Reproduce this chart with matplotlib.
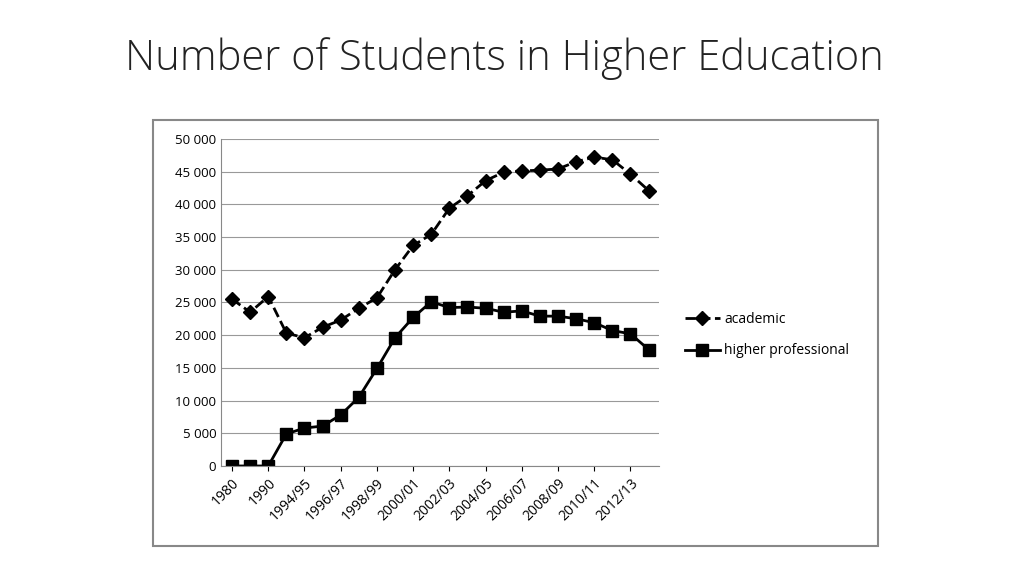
import matplotlib
matplotlib.use("Agg")
import matplotlib.pyplot as plt
from matplotlib.patches import Rectangle

years = ["1980", "1985", "1990", "1993/94", "1994/95", "1995/96", "1996/97", "1997/98",
         "1998/99", "1999/00", "2000/01", "2001/02", "2002/03", "2003/04", "2004/05",
         "2005/06", "2006/07", "2007/08", "2008/09", "2009/10", "2010/11", "2011/12",
         "2012/13", "2013/14"]
academic = [25500, 23500, 25900, 20300, 19600, 21200, 22300, 24100, 25700, 30000, 33700,
            35400, 39400, 41300, 43600, 44900, 45100, 45200, 45400, 46500, 47200, 46800,
            44600, 42100]
professional = [0, 0, 0, 4900, 5800, 6100, 7800, 10500, 14900, 19600, 22700, 25100, 24200,
                24300, 24100, 23500, 23700, 22900, 22900, 22500, 21900, 20700, 20200, 17800]

plt.rcParams['font.family'] = ['Open Sans', 'DejaVu Sans']
fig = plt.figure(figsize=(10.24, 5.76), dpi=100)
fig.patches.append(Rectangle((0.149, 0.052), 0.708, 0.740, transform=fig.transFigure,
                             fill=False, edgecolor='#888888', linewidth=1.5))
fig.text(0.493, 0.898, "Number of Students in Higher Education", ha='center', va='center',
         fontsize=30, color='#222222', fontweight='light')

ax = fig.add_axes([0.216, 0.191, 0.428, 0.568])
x = list(range(len(years)))
ax.plot(x, academic, 'k--', marker='D', markersize=7, linewidth=2, label='academic')
ax.plot(x, professional, 'k-', marker='s', markersize=8, linewidth=2, label='higher professional')
ax.set_xlim(-0.6, len(years) - 0.4)
ax.set_ylim(0, 50000)
ax.set_yticks(range(0, 50001, 5000))
ax.set_yticklabels([f"{v:,}".replace(",", " ") for v in range(0, 50001, 5000)], fontsize=9.5)
ax.set_xticks(x[::2])
ax.set_xticklabels(years[::2], rotation=45, ha='right', rotation_mode='anchor', fontsize=10)
ax.grid(axis='y', color='#999999', linewidth=0.8)
ax.set_axisbelow(True)
for s in ['top', 'right']:
    ax.spines[s].set_visible(False)
ax.spines['left'].set_color('#888888')
ax.spines['bottom'].set_color('#888888')
ax.tick_params(axis='y', length=0)
ax.legend(loc='center left', bbox_to_anchor=(1.03, 0.4), frameon=False, fontsize=10,
          handlelength=2.5, labelspacing=1.2, handletextpad=0.3)
fig.savefig("out.png", dpi=100)
